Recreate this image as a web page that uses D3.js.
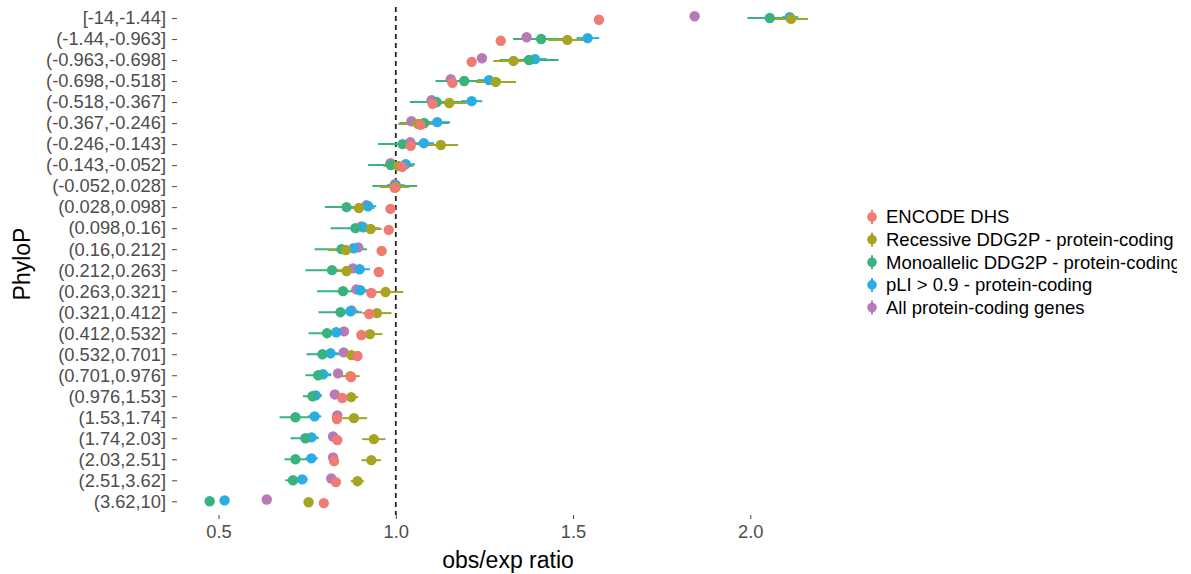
<!DOCTYPE html>
<html>
<head>
<meta charset="utf-8">
<script src="https://cdn.jsdelivr.net/npm/d3@7"></script>
<style>
  html, body { margin: 0; padding: 0; background: #fff; }
  svg { display: block; font-family: "Liberation Sans", Arial, Helvetica, sans-serif; }
</style>
</head>
<body>
<svg id="chart" width="1191" height="574"></svg>
<script>
// PhyloP bins (top to bottom)
const bins = [
  "[-14,-1.44]", "(-1.44,-0.963]", "(-0.963,-0.698]", "(-0.698,-0.518]",
  "(-0.518,-0.367]", "(-0.367,-0.246]", "(-0.246,-0.143]", "(-0.143,-0.052]",
  "(-0.052,0.028]", "(0.028,0.098]", "(0.098,0.16]", "(0.16,0.212]",
  "(0.212,0.263]", "(0.263,0.321]", "(0.321,0.412]", "(0.412,0.532]",
  "(0.532,0.701]", "(0.701,0.976]", "(0.976,1.53]", "(1.53,1.74]",
  "(1.74,2.03]", "(2.03,2.51]", "(2.51,3.62]", "(3.62,10]"
];

const seriesNames = [
  "ENCODE DHS",
  "Recessive DDG2P - protein-coding",
  "Monoallelic DDG2P - protein-coding",
  "pLI > 0.9 - protein-coding",
  "All protein-coding genes"
];

// obs/exp ratios per bin
const encodeRatio = [1.573, 1.296, 1.214, 1.160, 1.104, 1.070, 1.042, 1.018, 0.997, 0.985, 0.980, 0.960,
                     0.952, 0.931, 0.925, 0.903, 0.892, 0.874, 0.849, 0.834, 0.835, 0.826, 0.831, 0.797];
const encodeLo    = [1.569, 1.292, 1.210, 1.156, 1.100, 1.066, 1.038, 1.014, 0.993, 0.981, 0.976, 0.956,
                     0.948, 0.927, 0.921, 0.899, 0.888, 0.870, 0.845, 0.830, 0.831, 0.822, 0.827, 0.793];
const encodeHi    = [1.577, 1.300, 1.218, 1.164, 1.108, 1.074, 1.046, 1.022, 1.001, 0.989, 0.984, 0.964,
                     0.956, 0.935, 0.929, 0.907, 0.896, 0.878, 0.853, 0.838, 0.839, 0.830, 0.835, 0.801];

const recessiveRatio = [2.115, 1.484, 1.332, 1.282, 1.151, 1.063, 1.127, 1.007, 1.000, 0.896, 0.929, 0.859,
                        0.861, 0.971, 0.947, 0.927, 0.875, 0.872, 0.874, 0.882, 0.938, 0.931, 0.892, 0.754];
const recessiveLo    = [2.067, 1.430, 1.275, 1.225, 1.100, 1.007, 1.078, 0.965, 0.955, 0.855, 0.895, 0.809,
                        0.820, 0.920, 0.906, 0.889, 0.845, 0.846, 0.853, 0.849, 0.905, 0.903, 0.873, 0.745];
const recessiveHi    = [2.163, 1.540, 1.390, 1.339, 1.200, 1.118, 1.176, 1.050, 1.038, 0.940, 0.960, 0.905,
                        0.900, 1.021, 0.988, 0.962, 0.905, 0.898, 0.894, 0.919, 0.971, 0.958, 0.910, 0.763];

const monoRatio = [2.055, 1.410, 1.376, 1.193, 1.115, 1.080, 1.019, 0.986, 0.998, 0.861, 0.886, 0.847,
                   0.820, 0.851, 0.844, 0.806, 0.793, 0.781, 0.765, 0.717, 0.745, 0.717, 0.710, 0.475];
const monoLo    = [1.992, 1.331, 1.292, 1.112, 1.040, 1.010, 0.950, 0.922, 0.934, 0.800, 0.816, 0.771,
                   0.745, 0.778, 0.782, 0.754, 0.748, 0.745, 0.738, 0.672, 0.703, 0.686, 0.688, 0.468];
const monoHi    = [2.120, 1.490, 1.459, 1.270, 1.190, 1.150, 1.090, 1.050, 1.060, 0.925, 0.955, 0.919,
                   0.895, 0.925, 0.905, 0.860, 0.840, 0.818, 0.790, 0.765, 0.783, 0.750, 0.730, 0.482];

const pliRatio = [2.111, 1.541, 1.393, 1.263, 1.214, 1.117, 1.079, 1.028, 1.000, 0.922, 0.908, 0.881,
                  0.898, 0.900, 0.872, 0.832, 0.816, 0.795, 0.774, 0.771, 0.762, 0.762, 0.736, 0.517];
const pliLo    = [2.090, 1.510, 1.360, 1.230, 1.184, 1.085, 1.050, 1.002, 0.975, 0.898, 0.885, 0.858,
                  0.870, 0.875, 0.850, 0.810, 0.795, 0.775, 0.757, 0.752, 0.745, 0.745, 0.720, 0.510];
const pliHi    = [2.135, 1.574, 1.426, 1.296, 1.244, 1.153, 1.108, 1.054, 1.025, 0.945, 0.932, 0.905,
                  0.927, 0.925, 0.895, 0.855, 0.838, 0.818, 0.792, 0.790, 0.780, 0.780, 0.752, 0.525];

const allRatio = [1.843, 1.369, 1.243, 1.155, 1.101, 1.044, 1.041, 0.985, 0.997, 0.917, 0.903, 0.894,
                  0.879, 0.889, 0.875, 0.854, 0.853, 0.837, 0.828, 0.835, 0.823, 0.823, 0.818, 0.636];
const allLo    = [1.839, 1.365, 1.239, 1.151, 1.097, 1.040, 1.037, 0.981, 0.993, 0.913, 0.899, 0.890,
                  0.875, 0.885, 0.871, 0.850, 0.849, 0.833, 0.824, 0.831, 0.819, 0.819, 0.814, 0.632];
const allHi    = [1.847, 1.373, 1.247, 1.159, 1.105, 1.048, 1.045, 0.989, 1.001, 0.921, 0.907, 0.898,
                  0.883, 0.893, 0.879, 0.858, 0.857, 0.841, 0.832, 0.839, 0.827, 0.827, 0.822, 0.640];

const xTicks = [0.5, 1.0, 1.5, 2.0];
const colors = ["#EF7B73", "#A7A421", "#38B37F", "#2AADE3", "#B67BB6"];

const ratios = [encodeRatio, recessiveRatio, monoRatio, pliRatio, allRatio];
const lows   = [encodeLo, recessiveLo, monoLo, pliLo, allLo];
const highs  = [encodeHi, recessiveHi, monoHi, pliHi, allHi];

const records = [];
seriesNames.forEach((name, s) => {
  bins.forEach((b, i) => {
    records.push({ series: s, bin: b, ratio: ratios[s][i], lo: lows[s][i], hi: highs[s][i] });
  });
});

const svg = d3.select("#chart");

const x = d3.scaleLinear().domain([0.4, 2.2]).range([183.1, 821.2]);
const y = d3.scalePoint().domain(bins).range([18, 501.3]);

// small vertical dodge within each bin
const dodge = d3.scaleLinear().domain([0, seriesNames.length - 1]).range([1.8, -1.8]);

// reference line at ratio 1
svg.append("line")
  .attr("x1", x(1)).attr("x2", x(1))
  .attr("y1", 7).attr("y2", 515)
  .attr("stroke", "#222").attr("stroke-width", 1.8)
  .attr("stroke-dasharray", "5,4");

// error ranges
const drawOrder = [4, 3, 2, 1, 0];
const g = svg.append("g");
drawOrder.forEach(s => {
  g.selectAll(null)
    .data(records.filter(d => d.series === s))
    .join("line")
    .attr("x1", d => x(d.lo)).attr("x2", d => x(d.hi))
    .attr("y1", d => y(d.bin) + dodge(s)).attr("y2", d => y(d.bin) + dodge(s))
    .attr("stroke", colors[s]).attr("stroke-width", 2);
});
// points
drawOrder.forEach(s => {
  g.selectAll(null)
    .data(records.filter(d => d.series === s))
    .join("circle")
    .attr("cx", d => x(d.ratio))
    .attr("cy", d => y(d.bin) + dodge(s))
    .attr("r", 5.2)
    .attr("fill", colors[s]);
});

// axes
const yAxis = svg.append("g")
  .attr("transform", "translate(177,0)")
  .call(d3.axisLeft(y).tickSize(5).tickPadding(6));
const xAxis = svg.append("g")
  .attr("transform", "translate(0,515)")
  .call(d3.axisBottom(x).tickValues(xTicks).tickFormat(d3.format(".1f")).tickSize(4).tickPadding(6));
[yAxis, xAxis].forEach(a => {
  a.select(".domain").remove();
  a.selectAll(".tick line").attr("stroke", "#555").attr("stroke-width", 1.1);
  a.selectAll(".tick text")
    .attr("fill", "#4D4D4D")
    .style("font-size", "18.3px")
    .style("font-family", "'Liberation Sans', Arial, sans-serif");
});

// axis titles
svg.append("text")
  .attr("x", 508).attr("y", 568)
  .attr("text-anchor", "middle")
  .style("font-size", "23px")
  .attr("fill", "#000")
  .text("obs/exp ratio");
svg.append("text")
  .attr("transform", "translate(30,264) rotate(-90)")
  .attr("text-anchor", "middle")
  .style("font-size", "23px")
  .attr("fill", "#000")
  .text("PhyloP");

// legend
svg.append("clipPath").attr("id", "legend-clip")
  .append("rect").attr("x", 840).attr("y", 190).attr("width", 337).attr("height", 140);
const legend = svg.append("g").attr("clip-path", "url(#legend-clip)");
const legendY = d3.scalePoint().domain(seriesNames).range([217, 307.5]);
const items = legend.selectAll("g.item")
  .data(seriesNames)
  .join("g")
  .attr("class", "item")
  .attr("transform", d => `translate(872,${legendY(d)})`);
items.append("line")
  .attr("y1", -7).attr("y2", 7)
  .attr("stroke", (d, i) => colors[i]).attr("stroke-width", 2);
items.append("circle")
  .attr("r", 4.8)
  .attr("fill", (d, i) => colors[i]);
items.append("text")
  .attr("x", 14).attr("dy", "0.35em")
  .style("font-size", "18.5px")
  .attr("fill", "#000")
  .text(d => d);
</script>
</body>
</html>
